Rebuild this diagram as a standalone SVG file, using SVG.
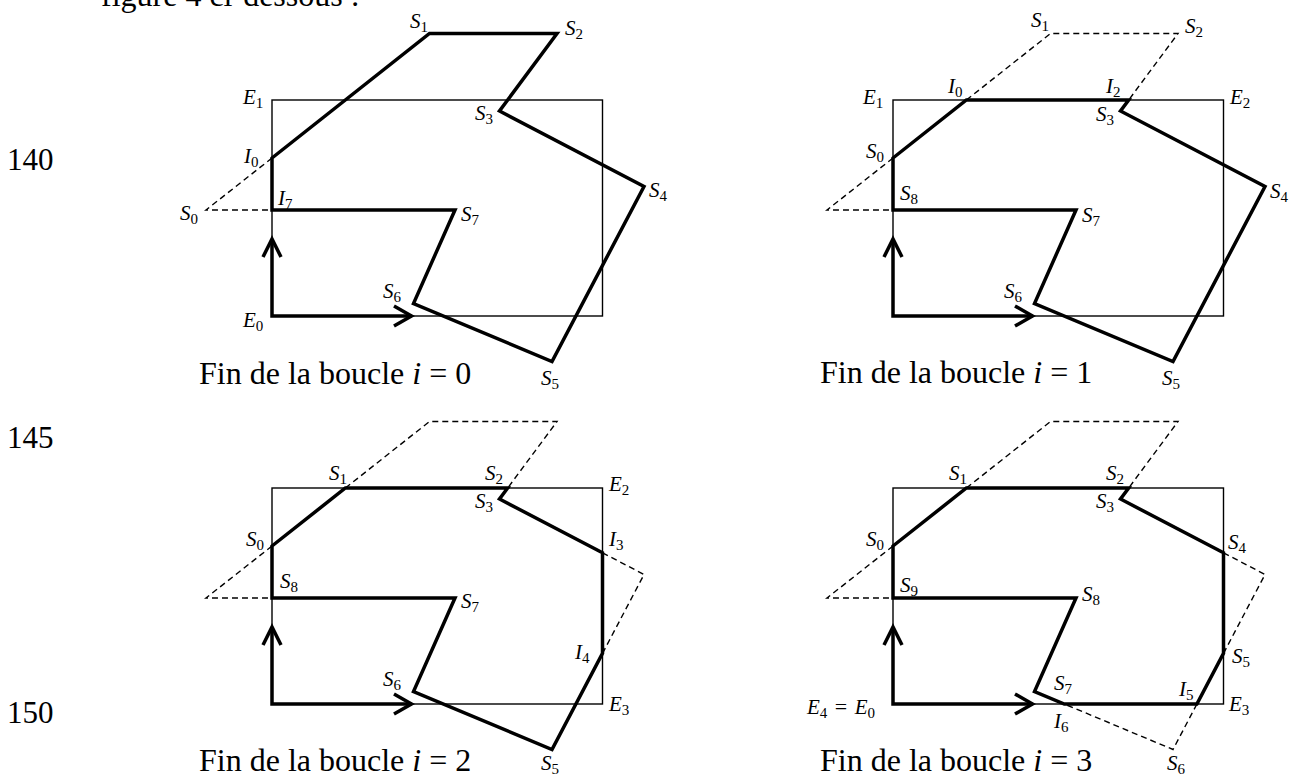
<svg xmlns="http://www.w3.org/2000/svg" xmlns:xlink="http://www.w3.org/1999/xlink" width="1294" height="778" viewBox="0 0 1294 778">
<style>
.thin{fill:none;stroke:#000;stroke-width:1.4}
.thick{fill:none;stroke:#000;stroke-width:3.5;stroke-linejoin:miter;stroke-miterlimit:10}
.dash{fill:none;stroke:#000;stroke-width:1.4;stroke-dasharray:6 4}
.lbl{font-family:"Liberation Serif","Times New Roman",serif;font-style:italic;font-size:21px;fill:#000}
.sub{font-style:normal;font-size:15px}
.up{font-style:normal}
.cap{font-family:"Liberation Serif","Times New Roman",serif;font-size:32px;fill:#000}
</style>
<defs>
<g id="base">
<rect class="thin" x="272" y="100" width="330.5" height="216"/>
<path class="thick" d="M272,239 V316 H411.5"/>
<path class="thick" d="M394,306 L411.5,316 L394,326"/>
<path class="thick" d="M263,257 L272,239 L281,257"/>
</g>
</defs>
<rect width="1294" height="778" fill="#fff"/>
<g id="page-text">
<text class="cap" x="101" y="6">figure 4 ci-dessous :</text>
<text class="cap" x="7" y="170" style="font-size:31px">140</text>
<text class="cap" x="7" y="448" style="font-size:31px">145</text>
<text class="cap" x="7" y="723" style="font-size:31px">150</text>
</g>

<g id="panel-i0">
<use xlink:href="#base" href="#base"/>
<g id="connectors-i0">
<path class="thick" d="M272,158 L429.5,33.5 L557,33.5 L499.5,111 L644,186.5 L552,361.5 L413.5,303.5 L455,210 L272,210 Z"/>
<path class="dash" d="M272,158 L206,210 L272,210"/>
</g>
<text class="lbl" x="410" y="28">S<tspan class="sub" dy="4">1</tspan></text>
<text class="lbl" x="565" y="35">S<tspan class="sub" dy="4">2</tspan></text>
<text class="lbl" x="243" y="104">E<tspan class="sub" dy="4">1</tspan></text>
<text class="lbl" x="475" y="120">S<tspan class="sub" dy="4">3</tspan></text>
<text class="lbl" x="244" y="163">I<tspan class="sub" dy="4">0</tspan></text>
<text class="lbl" x="278" y="205">I<tspan class="sub" dy="4">7</tspan></text>
<text class="lbl" x="180" y="220">S<tspan class="sub" dy="4">0</tspan></text>
<text class="lbl" x="461" y="221">S<tspan class="sub" dy="4">7</tspan></text>
<text class="lbl" x="649" y="197">S<tspan class="sub" dy="4">4</tspan></text>
<text class="lbl" x="383" y="298">S<tspan class="sub" dy="4">6</tspan></text>
<text class="lbl" x="243" y="327">E<tspan class="sub" dy="4">0</tspan></text>
<text class="lbl" x="541" y="385">S<tspan class="sub" dy="4">5</tspan></text>
<text class="cap" x="199" y="384">Fin de la boucle <tspan style="font-style:italic">i</tspan> = 0</text>
</g>

<g id="panel-i1" transform="translate(621,0)">
<use xlink:href="#base" href="#base"/>
<g id="connectors-i1">
<path class="thick" d="M272,158 L345.4,100 L507.7,100 L499.5,111 L644,186.5 L552,361.5 L413.5,303.5 L455,210 L272,210 Z"/>
<path class="dash" d="M272,158 L206,210 L272,210 M345.4,100 L429.5,33.5 L557,33.5 L507.7,100"/>
</g>
<text class="lbl" x="410" y="27">S<tspan class="sub" dy="4">1</tspan></text>
<text class="lbl" x="564" y="33">S<tspan class="sub" dy="4">2</tspan></text>
<text class="lbl" x="242" y="104">E<tspan class="sub" dy="4">1</tspan></text>
<text class="lbl" x="327" y="93">I<tspan class="sub" dy="4">0</tspan></text>
<text class="lbl" x="485" y="93">I<tspan class="sub" dy="4">2</tspan></text>
<text class="lbl" x="609" y="104">E<tspan class="sub" dy="4">2</tspan></text>
<text class="lbl" x="475" y="121">S<tspan class="sub" dy="4">3</tspan></text>
<text class="lbl" x="245" y="158">S<tspan class="sub" dy="4">0</tspan></text>
<text class="lbl" x="279" y="200">S<tspan class="sub" dy="4">8</tspan></text>
<text class="lbl" x="461" y="222">S<tspan class="sub" dy="4">7</tspan></text>
<text class="lbl" x="649" y="198">S<tspan class="sub" dy="4">4</tspan></text>
<text class="lbl" x="383" y="298">S<tspan class="sub" dy="4">6</tspan></text>
<text class="lbl" x="541" y="385">S<tspan class="sub" dy="4">5</tspan></text>
<text class="cap" x="199" y="383">Fin de la boucle <tspan style="font-style:italic">i</tspan> = 1</text>
</g>

<g id="panel-i2" transform="translate(0,388)">
<use xlink:href="#base" href="#base"/>
<g id="connectors-i2">
<path class="thick" d="M272,158 L345.4,100 L507.7,100 L499.5,111 L602.5,164.8 L602.5,265.4 L552,361.5 L413.5,303.5 L455,210 L272,210 Z"/>
<path class="dash" d="M272,158 L206,210 L272,210 M345.4,100 L429.5,33.5 L557,33.5 L507.7,100 M602.5,164.8 L644,186.5 L602.5,265.4"/>
</g>
<text class="lbl" x="329" y="92">S<tspan class="sub" dy="4">1</tspan></text>
<text class="lbl" x="485" y="92">S<tspan class="sub" dy="4">2</tspan></text>
<text class="lbl" x="609" y="103">E<tspan class="sub" dy="4">2</tspan></text>
<text class="lbl" x="475" y="120">S<tspan class="sub" dy="4">3</tspan></text>
<text class="lbl" x="246" y="158">S<tspan class="sub" dy="4">0</tspan></text>
<text class="lbl" x="609" y="158">I<tspan class="sub" dy="4">3</tspan></text>
<text class="lbl" x="280" y="200">S<tspan class="sub" dy="4">8</tspan></text>
<text class="lbl" x="461" y="220">S<tspan class="sub" dy="4">7</tspan></text>
<text class="lbl" x="575" y="271">I<tspan class="sub" dy="4">4</tspan></text>
<text class="lbl" x="383" y="298">S<tspan class="sub" dy="4">6</tspan></text>
<text class="lbl" x="609" y="323">E<tspan class="sub" dy="4">3</tspan></text>
<text class="lbl" x="541" y="382">S<tspan class="sub" dy="4">5</tspan></text>
<text class="cap" x="199" y="383">Fin de la boucle <tspan style="font-style:italic">i</tspan> = 2</text>
</g>

<g id="panel-i3" transform="translate(621,388)">
<use xlink:href="#base" href="#base"/>
<g id="connectors-i3">
<path class="thick" d="M272,158 L345.4,100 L507.7,100 L499.5,111 L602.5,164.8 L602.5,265.4 L575.9,316 L443.3,316 L413.5,303.5 L455,210 L272,210 Z"/>
<path class="dash" d="M272,158 L206,210 L272,210 M345.4,100 L429.5,33.5 L557,33.5 L507.7,100 M602.5,164.8 L644,186.5 L602.5,265.4 M575.9,316 L552,361.5 L443.3,316"/>
</g>
<text class="lbl" x="328" y="92">S<tspan class="sub" dy="4">1</tspan></text>
<text class="lbl" x="485" y="92">S<tspan class="sub" dy="4">2</tspan></text>
<text class="lbl" x="475" y="120">S<tspan class="sub" dy="4">3</tspan></text>
<text class="lbl" x="245" y="158">S<tspan class="sub" dy="4">0</tspan></text>
<text class="lbl" x="607" y="161">S<tspan class="sub" dy="4">4</tspan></text>
<text class="lbl" x="279" y="204">S<tspan class="sub" dy="4">9</tspan></text>
<text class="lbl" x="461" y="213">S<tspan class="sub" dy="4">8</tspan></text>
<text class="lbl" x="611" y="275">S<tspan class="sub" dy="4">5</tspan></text>
<text class="lbl" x="433" y="302">S<tspan class="sub" dy="4">7</tspan></text>
<text class="lbl" x="558" y="308">I<tspan class="sub" dy="4">5</tspan></text>
<text class="lbl" x="186" y="326">E<tspan class="sub" dy="4">4</tspan><tspan class="up" dy="-4" dx="2" style="font-size:22px"> = </tspan><tspan dx="2">E</tspan><tspan class="sub" dy="4">0</tspan></text>
<text class="lbl" x="608" y="323">E<tspan class="sub" dy="4">3</tspan></text>
<text class="lbl" x="433" y="340">I<tspan class="sub" dy="4">6</tspan></text>
<text class="lbl" x="546" y="382">S<tspan class="sub" dy="4">6</tspan></text>
<text class="cap" x="199" y="383">Fin de la boucle <tspan style="font-style:italic">i</tspan> = 3</text>
</g>
</svg>
